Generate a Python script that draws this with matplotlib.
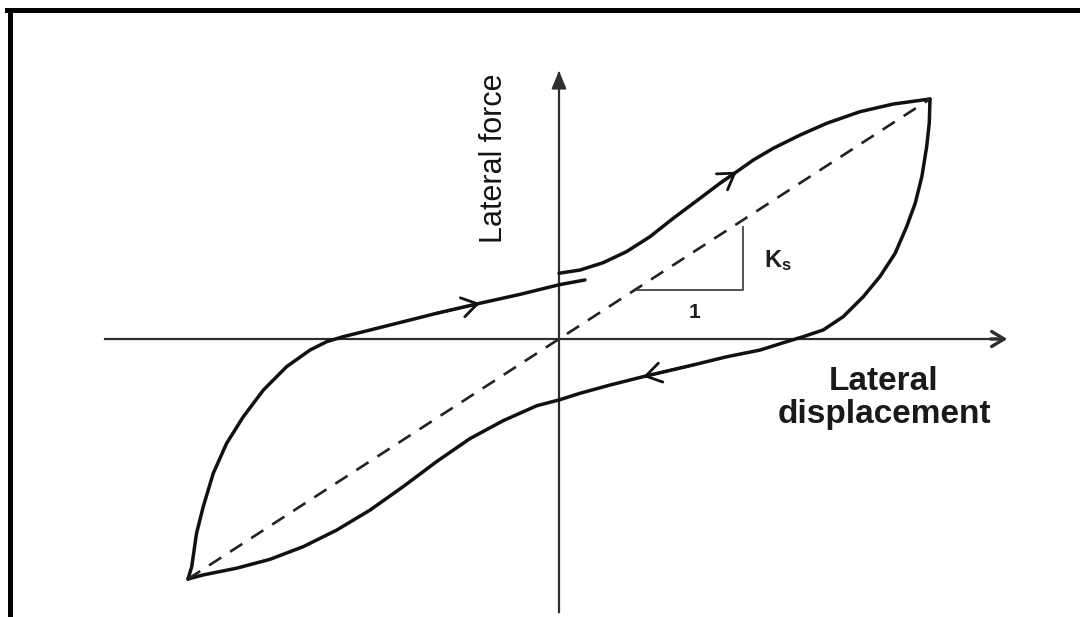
import matplotlib
matplotlib.use("Agg")
import matplotlib.pyplot as plt
from matplotlib.lines import Line2D

# hysteresis loop, both axes in % of peak value
# loading branch: from negative peak up to the short stub past the force axis
load_x = [-100, -99.0, -97.7, -95.9, -93.2, -89.6, -85.1, -79.7, -73.4, -67.1,
          -62.6, -58.1, -50.9, -42.0, -33.0, -21.3, -10.5, 0.0, 7.0]
load_y = [-100, -94.9, -81.0, -69.9, -56.0, -43.5, -32.4, -21.3, -11.5, -4.6,
          -1.1, 1.0, 3.75, 7.2, 10.7, 14.9, 18.6, 22.6, 24.6]

# upper branch: from force axis to positive peak
upper_x = [0.0, 5.7, 11.9, 18.2, 24.5, 30.8, 38.0, 43.4, 47.9, 52.4,
           57.8, 65.0, 72.2, 81.1, 90.1, 100]
upper_y = [27.4, 28.75, 31.8, 36.4, 42.6, 50.3, 58.6, 64.9, 69.7, 74.6,
           79.5, 85.0, 89.9, 94.7, 97.9, 100]

# unloading branch: from positive peak back round to negative peak
unload_x = [100, 99.8, 99.1, 97.8, 96.0, 93.7, 90.6, 86.5, 82.0, 76.6,
            71.2, 65.8, 61.4, 54.2, 45.2, 36.2, 22.7, 13.7, 5.7, 0.0,
            -6.0, -15.0, -24.0, -33.0, -42.0, -50.9, -59.9, -68.9, -77.9,
            -86.9, -95.9, -100]
unload_y = [100, 89.9, 80.1, 67.6, 56.5, 46.8, 35.7, 26.0, 17.6, 9.3,
            3.75, 0.96, -1.1, -4.6, -7.4, -10.8, -15.7, -19.2, -22.6, -25.4,
            -27.8, -34.0, -41.5, -51.1, -61.5, -71.25, -79.6, -86.5, -91.8,
            -95.5, -98.3, -100]

# secant stiffness line through the two peaks
secant_x = [-100, 100]
secant_y = [-100, 100]

# slope triangle under the secant line
tri_x = [21.0, 49.6, 49.6]
tri_y = [20.4, 20.4, 46.7]

# direction arrows on the loop: (tail, tip)
arrow_tails = [(-33.0, 10.7), (43.4, 64.9), (36.2, -10.8)]
arrow_tips = [(-21.3, 14.9), (47.9, 69.7), (22.7, -15.7)]

# axis extents
x_axis = [-122.4, 121.6]
y_axis = [-113.75, 112.9]

plt.rcParams["font.family"] = ["Liberation Sans", "DejaVu Sans"]
plt.rcParams["mathtext.fontset"] = "custom"
plt.rcParams["mathtext.bf"] = "Liberation Sans:bold"

fig = plt.figure(figsize=(10.8, 6.17), dpi=100)
ax = fig.add_axes([0, 0, 1, 1])
ax.set_xlim(-150.67, 140.43)
ax.set_ylim(-115.83, 141.25)
ax.axis("off")

ink = "#111111"
axis_col = "#2e2e2e"

# coordinate axes with arrow heads
ax.plot([x_axis[0], x_axis[1] - 2], [0, 0], color=axis_col, lw=1.6)
ax.annotate("", xy=(x_axis[1], 0), xytext=(x_axis[1] - 6, 0),
            arrowprops=dict(arrowstyle="->,head_length=0.5,head_width=0.3",
                            color=axis_col, lw=2.4, mutation_scale=18))
ax.plot([0, 0], [y_axis[0], y_axis[1] - 2], color=axis_col, lw=1.6)
ax.annotate("", xy=(0, y_axis[1]), xytext=(0, y_axis[1] - 8),
            arrowprops=dict(arrowstyle="-|>,head_length=0.6,head_width=0.25",
                            color=axis_col, lw=1.5, mutation_scale=18))

# loop
kw = dict(color=ink, lw=2.5, solid_joinstyle="round", solid_capstyle="round")
ax.plot(load_x, load_y, **kw)
ax.plot(upper_x, upper_y, **kw)
ax.plot(unload_x, unload_y, **kw)

for (tx, ty), (hx, hy) in zip(arrow_tails, arrow_tips):
    ax.annotate("", xy=(hx, hy), xytext=(tx, ty),
                arrowprops=dict(arrowstyle="->,head_length=0.55,head_width=0.35",
                                color=ink, lw=2.0, mutation_scale=20,
                                shrinkA=0, shrinkB=0))

ax.plot(secant_x, secant_y, color="#222222", lw=1.9, dashes=(5.5, 4))
ax.plot(tri_x, tri_y, color="#444444", lw=1.3)

# labels
ax.text(-17.5, 75.4, "Lateral force", rotation=90, ha="center", va="center",
        fontsize=22, color="#141414")
ax.text(87.6, -24.6, "Lateral\ndisplacement", ha="center", va="center",
        fontsize=24, fontweight="bold", color="#1a1a1a", linespacing=1.05)
ax.text(59.0, 32.5, r"$\mathbf{K_s}$", ha="center", va="center",
        fontsize=17, color="#1e1e1e")
ax.text(36.4, 11.25, "1", ha="center", va="center", fontsize=15,
        fontweight="bold", color="#1e1e1e")

# black frame on the top and left edges
fig.add_artist(Line2D([0.0088, 0.0088], [0, 0.984], color="black", lw=3.6,
                      transform=fig.transFigure))
fig.add_artist(Line2D([0.0065, 1.0], [0.984, 0.984], color="black", lw=3.6,
                      transform=fig.transFigure))

fig.savefig("out.png", dpi=100, facecolor="white")
